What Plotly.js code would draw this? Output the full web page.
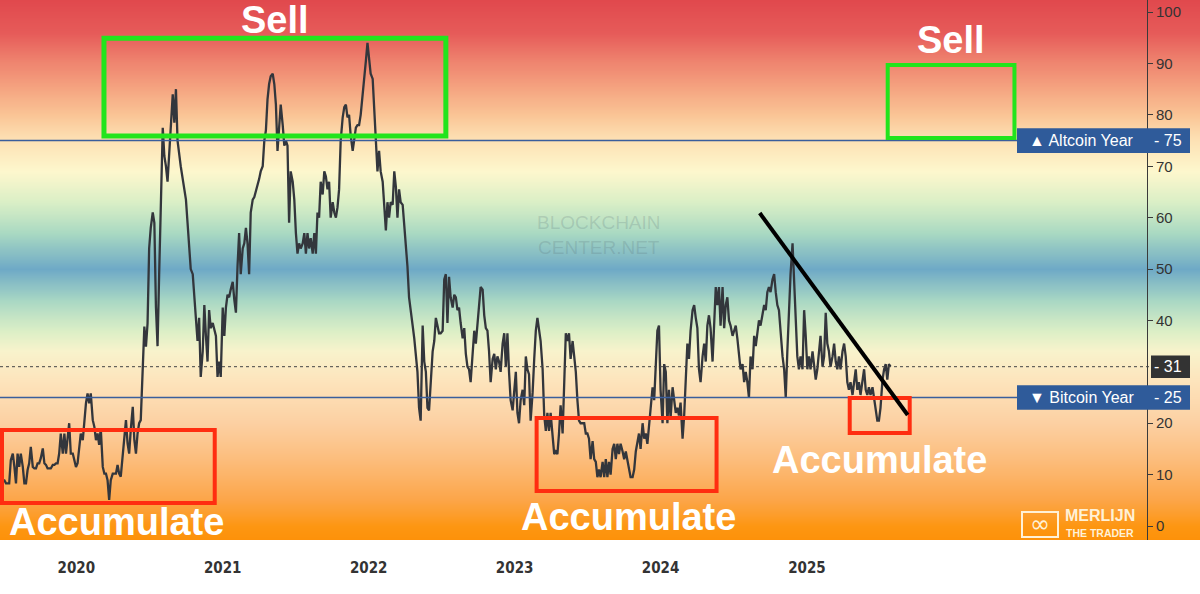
<!DOCTYPE html>
<html>
<head>
<meta charset="utf-8">
<script src="https://cdn.plot.ly/plotly-3.0.1.min.js"></script>
<style>
  html, body { margin: 0; padding: 0; background: #ffffff; }
  #chart { width: 1200px; height: 594px; }
</style>
</head>
<body>
<div id="chart"></div>
<script>
// ---- Data (Altcoin Season Index) ----
const startDate = '2019-07-01';
const stepDays = 25 / 6;

const index2019to2020 = [8.9,8.9,8.3,8.3,8.3,12.8,14.1,11.5,8.3,14.1,11.5,14.1,11.5,8.3,8.3,10.9,12.2,15.4,11.5,11.2,
  11.2,12.2,12.2,13.2,15.1,12.2,11.9,11.2,11.2,11.2,11.9,11.9,12.2,12.2,14.1,18.0,14.1,18.0,14.1,17.4,
  20.0,14.1,14.1,12.8,11.5,12.2,14.8,18.0,16.7,20.6,23.9,25.8,23.9,25.8,20.6,19.3,16.7,18.0,15.8,19.0,
  11.5,10.2,10.2,8.9,5.1,8.9,10.2,10.2,10.2,11.9,10.2,9.6,14.1,16.7,20.6,16.1,14.1,18.7,23.2,16.7,
  14.1,18.0,20.0,20.6,29.7,38.8,34.9,39.4];
const index2020to2021 = [54,58,61,59,42.5,35,49,65,77.5,72,70,67,72,77,84,78.5,85,75,72,70,
  67.5,65,63.5,59,54,50,49,45,39.5,36,40.5,29,34,43,37,32,42,38.5,39.5,38,
  37,29,32,29,42.5,37,42.5,45,44.5,46,47.5,44,41.5,50.5,57,49,54,55,58,55,
  49,61,63.5,64,65,66,67.5,69,70,75,77,83,86,87.5,88,86,82,73,78.5,82,
  78,74,75,74,59,69,67,63.5,57,53];
const index2021to2022 = [55,54,55,57,53,57,54,56,53,57,53,61,60,67,64.5,69,68,65.5,67,60,
  63,61,60,62,65.5,75,79.5,81.5,82,79.5,80,76,73,75,77.5,78,78,80,84,86,
  90.5,94,90.5,88,87,81.5,76.5,69,73,69,67,61.5,57.5,63,60,63,62.5,69,66,60,
  65.5,63,62.5,58.5,55,50.5,44.5,41.5,39,36.5,33,30,23,20.5,39,32,30,23,22.5,27,
  34,36,40.5,39,37.5,37.5,38,48,49,39.5];
const index2022to2023 = [48.5,44.5,42.5,45,44.5,42,42.5,39.5,36.5,38.5,33.5,31,30.5,28,33,38,35.5,39.5,42.5,46.5,
  46,41,38.5,38,34,28,32.5,33.5,30.5,33,32,30,35.5,37.5,31,37.5,30,24.5,22.5,26,
  30,22,20,24.5,26.5,23.5,33,30.5,29.5,20.5,26,32.5,38,40.5,38,36,30.5,21.5,18.5,22,
  18.5,22,17.5,14,14.5,14,18,23.5,18,30.5,37.5,36,37.5,32.5,36,33,30,24.5,20.5,20,
  20,20,18,18,17,13,16.5,13,12.5,9.5];
const index2023to2024 = [11,9.5,12.5,9.5,13,9.5,12.5,10,15,16,13,16,14,16,14.5,13,14.5,13,11,9.5,
  9.5,11,14.5,16,18,15,20,17,18,16,19.5,22,27,24.5,33,38,39,26.5,20,31.5,
  30,20,26.5,21,27,24,22,23,21.5,24,17,21.5,30.5,35.5,32.5,38,42,43,40.5,38.5,
  30.5,28,33,35.5,32,39,41,38.5,32,39,46.5,43,46.5,39,46.5,38.5,43,44.5,40,39,
  37,38,39,36.5,33,30.5,31.5,28,30,28];
const index2024to2025 = [25,33,30.5,37,35,38,40,39,41,43,42,45.5,46.5,45.5,48,49,45.5,43,42,37,
  33,30.5,25,34,42,49,55,48,42,33,30.5,33,30.5,42,37,30.5,33,30.5,34,30.5,
  28.5,30.5,34,37,31,33,41.5,35.5,34,31,33,35.5,32,30.5,33,30.5,34,35.5,33,28,
  26.5,28,25.5,28,30.5,26.5,28,25.5,28,30.5,26.5,25.5,27,25.5,27,25,23,20.5,20.5,23,
  28.5,30.5,31.5,28.5,31.5,31];

const yearTicks = ['2020-01-01','2021-01-01','2022-01-01','2023-01-01','2024-01-01','2025-01-01'];
const yearLabels = ['2020','2021','2022','2023','2024','2025'];
const valueTicks = [0,10,20,40,50,60,70,80,90,100];
const altcoinYear = 75;
const bitcoinYear = 25;
const currentValue = 31;

// ---- Build series ----
const values = [].concat(index2019to2020, index2020to2021, index2021to2022,
                         index2022to2023, index2023to2024, index2024to2025);
const t0 = Date.parse(startDate + 'T00:00:00Z');
const dates = values.map((v, i) => new Date(t0 + i * stepDays * 86400000).toISOString().slice(0, 10));

// ---- Background gradient (styling) ----
const gradStops = [
  [-4, '#fd8f05'], [0, '#fd9612'], [5, '#fca548'], [13, '#fcbd7c'], [20, '#fcd0a2'],
  [28, '#fde3bb'], [34, '#f8f3cc'], [38, '#dcefc6'], [44, '#a8d7c4'], [50, '#6ea9c6'],
  [57, '#a9d9c2'], [63, '#daefc6'], [69, '#fdf7cd'], [75, '#fde2b5'], [80, '#fac596'],
  [85, '#f5a581'], [90, '#ef8670'], [96, '#e65b59'], [104, '#df444a']
];
const zMin = -4, zMax = 104;
const levels = [];
for (let v = zMin; v <= zMax; v += 1) levels.push(v);
const bg = {
  type: 'heatmap',
  x: ['2019-01-01', '2028-06-01'],
  y: levels,
  z: levels.map(v => [v, v]),
  zmin: zMin, zmax: zMax,
  zsmooth: 'best',
  colorscale: gradStops.map(s => [(s[0] - zMin) / (zMax - zMin), s[1]]),
  showscale: false,
  hoverinfo: 'skip',
  xaxis: 'x', yaxis: 'y'
};

const line = {
  type: 'scatter', mode: 'lines',
  x: dates, y: values,
  line: { color: '#33363c', width: 2.3 },
  hoverinfo: 'skip',
  xaxis: 'x', yaxis: 'y2'
};

const yRange = [-2.72, 102.35];
const xRange = ['2019-06-24', '2027-09-11'];
const axisX = 1147 / 1200;

const bigFont = { family: 'Liberation Sans, Arial, sans-serif', size: 38, color: '#ffffff' };
function big(text, x, y) {
  return { text: '<b>' + text + '</b>', xref: 'paper', yref: 'paper', x: x, y: y,
           xanchor: 'center', yanchor: 'middle', showarrow: false, font: bigFont };
}
const labelFont = { family: 'Liberation Sans, Arial, sans-serif', size: 16, color: '#ffffff' };
const wmFont = { family: 'Liberation Sans, Arial, sans-serif', size: 19, color: 'rgba(80,100,110,0.2)' };
const logoColor = '#fff1d6';

const layout = {
  width: 1200, height: 594,
  margin: { l: 0, r: 0, t: 0, b: 54 },
  paper_bgcolor: '#ffffff',
  plot_bgcolor: '#ffffff',
  showlegend: false,
  hovermode: false,
  xaxis: {
    type: 'date', range: xRange,
    tickvals: yearTicks, ticktext: yearLabels,
    ticks: 'outside', ticklen: 14, tickcolor: 'rgba(0,0,0,0)',
    showgrid: false, zeroline: false, showline: false,
    tickfont: { family: 'Liberation Sans Narrow, DejaVu Sans Condensed, Liberation Sans, sans-serif', size: 15, color: '#333333', weight: 'bold' }
  },
  yaxis: { range: yRange, visible: false, showgrid: false, zeroline: false },
  yaxis2: {
    range: yRange, overlaying: 'y', anchor: 'free', position: axisX, side: 'right',
    tickvals: valueTicks,
    ticks: 'outside', ticklen: 5, tickcolor: '#3a3a3a',
    showline: true, linecolor: '#3a3a3a', linewidth: 1,
    showgrid: false, zeroline: false,
    tickfont: { family: 'Liberation Sans, Arial, sans-serif', size: 15, color: '#333333' }
  },
  shapes: [
    // reference levels
    { type: 'line', xref: 'paper', yref: 'y', x0: 0, x1: 1017/1200, y0: altcoinYear, y1: altcoinYear, line: { color: '#3a5e9c', width: 1.5 } },
    { type: 'line', xref: 'paper', yref: 'y', x0: 0, x1: 1017/1200, y0: bitcoinYear, y1: bitcoinYear, line: { color: '#3a5e9c', width: 1.5 } },
    { type: 'line', xref: 'paper', yref: 'y', x0: 0, x1: 1151/1200, y0: currentValue, y1: currentValue, line: { color: '#444444', width: 1, dash: 'dot' } },
    // label boxes on the right
    { type: 'rect', xref: 'paper', yref: 'y', x0: 1017/1200, x1: 1190/1200, y0: altcoinYear - 2.4, y1: altcoinYear + 2.4, fillcolor: '#2f5b9a', line: { width: 0 } },
    { type: 'rect', xref: 'paper', yref: 'y', x0: 1017/1200, x1: 1190/1200, y0: bitcoinYear - 2.4, y1: bitcoinYear + 2.4, fillcolor: '#2f5b9a', line: { width: 0 } },
    { type: 'rect', xref: 'paper', yref: 'y', x0: 1151/1200, x1: 1190/1200, y0: currentValue - 2.2, y1: currentValue + 2.2, fillcolor: '#333333', line: { width: 0 } },
    // sell boxes
    { type: 'rect', xref: 'x', yref: 'y', x0: '2020-03-10', x1: '2022-07-13', y0: 75.9, y1: 94.9, line: { color: '#22e41c', width: 5 } },
    { type: 'rect', xref: 'x', yref: 'y', x0: '2025-07-22', x1: '2026-06-04', y0: 75.5, y1: 89.7, line: { color: '#22e41c', width: 4 } },
    // accumulate boxes
    { type: 'rect', xref: 'x', yref: 'y', x0: '2019-06-29', x1: '2020-12-12', y0: 4.5, y1: 18.7, line: { color: '#ff2d10', width: 4 } },
    { type: 'rect', xref: 'x', yref: 'y', x0: '2023-02-25', x1: '2024-05-20', y0: 6.8, y1: 21, line: { color: '#ff2d10', width: 4 } },
    { type: 'rect', xref: 'x', yref: 'y', x0: '2025-04-18', x1: '2025-09-15', y0: 18.1, y1: 24.9, line: { color: '#ff2d10', width: 4 } },
    // trend line
    { type: 'line', xref: 'x', yref: 'y', x0: '2024-09-05', y0: 60.9, x1: '2025-09-10', y1: 21.6, line: { color: '#000000', width: 4 } },
    // logo frame
    { type: 'rect', xref: 'paper', yref: 'paper', x0: 1022/1200, x1: 1058/1200, y0: 1 - 537/540, y1: 1 - 512/540,
      line: { color: logoColor, width: 2 } }
  ],
  annotations: [
    big('Sell', 275/1200, 1 - 20/540),
    big('Sell', 951/1200, 1 - 40/540),
    big('Accumulate', 116/1200, 1 - 522/540),
    big('Accumulate', 628/1200, 1 - 517/540),
    big('Accumulate', 880/1200, 1 - 460/540),
    { text: '▲ Altcoin Year', xref: 'paper', yref: 'y', x: 1027/1200, y: altcoinYear, xanchor: 'left', yanchor: 'middle', showarrow: false, font: labelFont },
    { text: '- 75', xref: 'paper', yref: 'y', x: 1152/1200, y: altcoinYear, xanchor: 'left', yanchor: 'middle', showarrow: false, font: labelFont },
    { text: '▼ Bitcoin Year', xref: 'paper', yref: 'y', x: 1027/1200, y: bitcoinYear, xanchor: 'left', yanchor: 'middle', showarrow: false, font: labelFont },
    { text: '- 25', xref: 'paper', yref: 'y', x: 1152/1200, y: bitcoinYear, xanchor: 'left', yanchor: 'middle', showarrow: false, font: labelFont },
    { text: '- 31', xref: 'paper', yref: 'y', x: 1152/1200, y: currentValue, xanchor: 'left', yanchor: 'middle', showarrow: false, font: labelFont },
    { text: 'BLOCKCHAIN<br>CENTER.NET', xref: 'paper', yref: 'paper', x: 599/1200, y: 1 - 235/540,
      xanchor: 'center', yanchor: 'middle', showarrow: false, font: wmFont },
    { text: '<b>MERLIJN</b>', xref: 'paper', yref: 'paper', x: 1100/1200, y: 1 - 515.5/540, xanchor: 'center', yanchor: 'middle', showarrow: false,
      font: { family: 'Liberation Sans, Arial, sans-serif', size: 16, color: logoColor } },
    { text: '<b>THE TRADER</b>', xref: 'paper', yref: 'paper', x: 1100/1200, y: 1 - 533/540, xanchor: 'center', yanchor: 'middle', showarrow: false,
      font: { family: 'Liberation Sans, Arial, sans-serif', size: 10.5, color: logoColor } },
    { text: '∞', xref: 'paper', yref: 'paper', x: 1040/1200, y: 1 - 524/540, xanchor: 'center', yanchor: 'middle', showarrow: false,
      font: { family: 'DejaVu Sans, sans-serif', size: 24, color: logoColor } }
  ]
};

Plotly.newPlot('chart', [bg, line], layout, { displayModeBar: false, staticPlot: true });
</script>
</body>
</html>
